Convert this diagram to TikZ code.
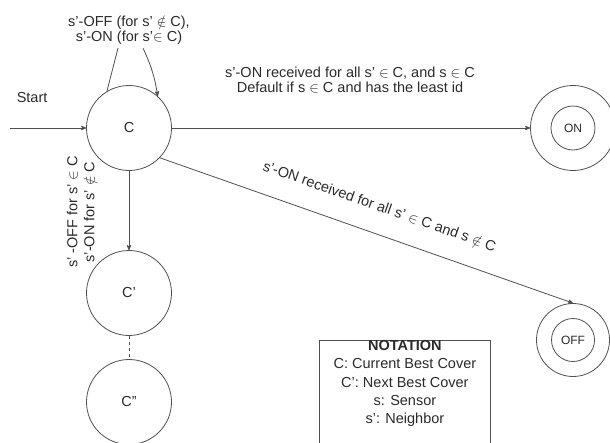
\documentclass[tikz,border=0pt]{standalone}
\usepackage{fontspec}
\setmainfont{Liberation Sans}
\usepackage{amssymb,amsmath}
\usepackage{xcolor}
\usetikzlibrary{arrows}
\definecolor{linegray}{HTML}{505050}
\definecolor{textgray}{HTML}{2A2A2A}

\begin{document}
\begin{tikzpicture}[x=1pt,y=-1pt,->,>=stealth',shorten >=0pt,auto,node distance=165pt,
                    line width=0.8pt,draw=linegray,text=textgray,
                    font=\fontsize{14.5}{15}\selectfont,
                    main node/.style={circle,draw=linegray,minimum size=85pt,inner sep=0pt},
                    final node/.style={circle,draw=linegray,inner sep=0pt,font=\fontsize{12}{14}\selectfont}]
  \useasboundingbox (0,0) rectangle (610,442);
  \clip (0,0) rectangle (610,442);

  \node[main node] (C) at (129,128) {C};
  \node[main node] (C1) [below of=C] {C'};
  \node[main node] (C2) [below of=C1, node distance=109pt] {C''};
  \node[final node, minimum size=85pt] (on) [right of=C, node distance=444pt] {};
  \node[final node, minimum size=44pt] (on inner) at (on) {ON};
  \node[final node, minimum size=73pt] (off) [below of=on, node distance=212pt] {};
  \node[final node, minimum size=43pt] (off inner) at (off) {OFF};
  \coordinate (start) at (10,128);

  % labels
  \node[align=center] (loop) at (129,30) {s'-OFF (for s' $\notin$ C),\\ s'-ON (for s'$\in$ C)};
  \node[align=center] (on label) at (350,80) {s'-ON received for all s' $\in$ C, and s $\in$ C\\ Default if s $\in$ C and has the least id};
  \node[align=center, rotate=90, font=\fontsize{14.5}{17}\selectfont] (down label) at (81,212) {s' -OFF for s' $\in$ C\\ s'-ON for s' $\notin$ C};

  % notation box
  \node[draw=linegray, minimum width=171pt, minimum height=120pt, anchor=north west] (notation) at (319,340) {};
  \node[anchor=north, align=center, inner sep=0pt, font=\fontsize{14.5}{18.3}\selectfont]
    (notation text) at (notation.north) {\textbf{NOTATION}\\ C: Current Best Cover\\ C': Next Best Cover\\ s: Sensor\\ s': Neighbor};

  \path
    (start) edge node[pos=0.29, anchor=south, yshift=22pt] {Start} (C)
    (C.121) edge[-] ([xshift=-11pt]loop.south)
    ([xshift=14pt]loop.south) edge[bend left=8] (C.48)
    (C) edge (on)
    (C.-44) edge node[pos=0.51, sloped, anchor=south, yshift=18pt] {s'-ON received for all s' $\in$ C and s $\notin$ C} (off.north)
    (C) edge (C1)
    (C1) edge[-, dashed] (C2);
\end{tikzpicture}
\end{document}
